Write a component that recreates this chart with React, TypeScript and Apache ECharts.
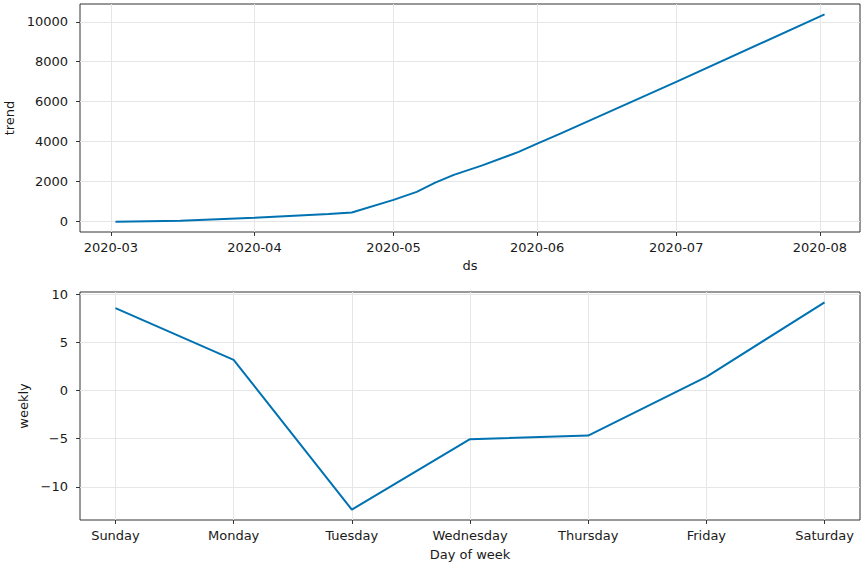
import React, { useEffect, useRef } from "react";
import * as echarts from "echarts";

// ---- data ----
const trendDates = [
  "2020-03-02", "2020-03-16", "2020-04-01", "2020-04-17", "2020-04-22",
  "2020-05-01", "2020-05-06", "2020-05-10", "2020-05-14", "2020-05-20",
  "2020-05-28", "2020-06-01", "2020-06-06", "2020-07-01", "2020-08-02",
];
const trendValues = [
  0, 40, 195, 376, 460,
  1090, 1490, 1950, 2340, 2800,
  3490, 3900, 4400, 6990, 10370,
];
const trendTickLabels = [0, 2000, 4000, 6000, 8000, 10000];
const monthTicks = ["2020-03-01", "2020-04-01", "2020-05-01", "2020-06-01", "2020-07-01", "2020-08-01"];

const weekDays = ["Sunday", "Monday", "Tuesday", "Wednesday", "Thursday", "Friday", "Saturday"];
const weeklyValues = [8.56, 3.19, -12.36, -5.05, -4.67, 1.42, 9.15];
const weeklyTickLabels = [-10, -5, 0, 5, 10];

// ---- helpers ----
const DAY = 86400000;
const EPOCH = Date.UTC(2020, 0, 1);
// dates -> day number since 2020-01-01 (UTC)
const toDay = (s: string) => {
  const [y, m, d] = s.split("-").map(Number);
  return (Date.UTC(y, m - 1, d) - EPOCH) / DAY;
};
const dayLabel = (n: number) => {
  const d = new Date(EPOCH + Math.round(n) * DAY);
  const mm = d.getUTCMonth() + 1;
  return d.getUTCFullYear() + "-" + (mm < 10 ? "0" + mm : "" + mm);
};
const padRange = (lo: number, hi: number) => {
  const p = (hi - lo) * 0.05;
  return [lo - p, hi + p];
};

const FONT = "DejaVu Sans";
const TXT = "#1a1a1a";
const FRAME = "#333";
const GRIDC = "#e6e6e6";
const LINE = "#0072B2";

export default function App() {
  const ref = useRef<HTMLDivElement>(null);
  useEffect(() => {
    if (!ref.current) return;
    const chart = echarts.init(ref.current, undefined, { renderer: "svg" });

    const tDays = trendDates.map(toDay);
    const [xMin, xMax] = padRange(tDays[0], tDays[tDays.length - 1]);
    const [yMin, yMax] = padRange(Math.min(...trendValues), Math.max(...trendValues));
    const [wxMin, wxMax] = padRange(0, weekDays.length - 1);
    const [wyMin, wyMax] = padRange(Math.min(...weeklyValues), Math.max(...weeklyValues));
    const monthDays = monthTicks.map(toDay);
    const dayIdx = weekDays.map((_, i) => i);

    const common = {
      axisLine: { show: false, onZero: false },
      splitLine: { show: true, lineStyle: { color: GRIDC, width: 1 } },
    };
    const tick = (vals: number[]) => ({ show: true, length: 4, customValues: vals, lineStyle: { color: FRAME, width: 1 } });
    const labelStyle = { fontFamily: FONT, fontSize: 13, color: TXT };
    const nameStyle = { fontFamily: FONT, fontSize: 13, color: TXT };
    const gridBase = {
      left: 80,
      width: 780,
      height: 228,
      show: true,
      borderColor: FRAME,
      borderWidth: 1,
      backgroundColor: "transparent",
      containLabel: false,
      outerBoundsMode: "none",
    };

    chart.setOption({
      animation: false,
      backgroundColor: "#fff",
      grid: [
        { ...gridBase, top: 4 },
        { ...gridBase, top: 292 },
      ],
      xAxis: [
        {
          gridIndex: 0,
          type: "value",
          position: "bottom",
          min: xMin,
          max: xMax,
          name: "ds",
          nameLocation: "middle",
          nameGap: 27,
          nameTextStyle: nameStyle,
          ...common,
          axisTick: tick(monthDays),
          axisLabel: {
            ...labelStyle,
            margin: 9,
            customValues: monthDays,
            formatter: (v: number) => dayLabel(v),
          },
        },
        {
          gridIndex: 1,
          type: "value",
          position: "bottom",
          min: wxMin,
          max: wxMax,
          name: "Day of week",
          nameLocation: "middle",
          nameGap: 28,
          nameTextStyle: nameStyle,
          ...common,
          axisTick: tick(dayIdx),
          axisLabel: {
            ...labelStyle,
            margin: 9,
            customValues: dayIdx,
            formatter: (v: number) => weekDays[Math.round(v)] ?? "",
          },
        },
      ],
      yAxis: [
        {
          gridIndex: 0,
          type: "value",
          position: "left",
          min: yMin,
          max: yMax,
          name: "trend",
          nameLocation: "middle",
          nameGap: 62,
          nameRotate: 90,
          nameTextStyle: nameStyle,
          ...common,
          axisTick: tick(trendTickLabels),
          axisLabel: {
            ...labelStyle,
            margin: 12,
            customValues: trendTickLabels,
            formatter: (v: number) => String(v),
          },
        },
        {
          gridIndex: 1,
          type: "value",
          position: "left",
          min: wyMin,
          max: wyMax,
          name: "weekly",
          nameLocation: "middle",
          nameGap: 40,
          nameRotate: 90,
          nameTextStyle: nameStyle,
          ...common,
          axisTick: tick(weeklyTickLabels),
          axisLabel: {
            ...labelStyle,
            margin: 12,
            customValues: weeklyTickLabels,
            formatter: (v: number) => String(v).replace("-", "\u2212"),
          },
        },
      ],
      series: [
        {
          type: "line",
          xAxisIndex: 0,
          yAxisIndex: 0,
          showSymbol: false,
          lineStyle: { color: LINE, width: 2 },
          itemStyle: { color: LINE },
          data: tDays.map((t, i) => [t, trendValues[i]]),
        },
        {
          type: "line",
          xAxisIndex: 1,
          yAxisIndex: 1,
          showSymbol: false,
          lineStyle: { color: LINE, width: 2 },
          itemStyle: { color: LINE },
          data: weeklyValues.map((v, i) => [i, v]),
        },
      ],
    });
    return () => chart.dispose();
  }, []);
  return (
    <div
      ref={ref}
      style={{ position: "absolute", left: 0, top: 0, width: 861, height: 568, background: "#fff" }}
    />
  );
}
